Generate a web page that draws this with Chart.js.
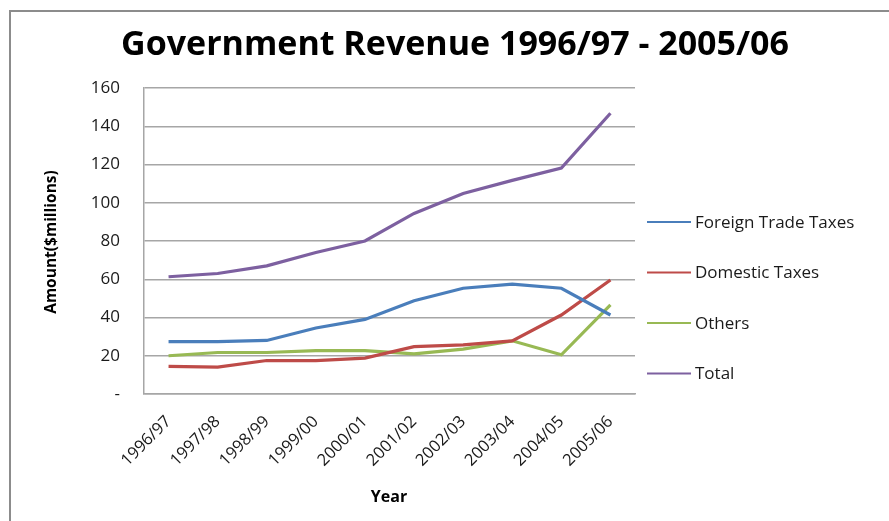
<!DOCTYPE html>
<html>
<head>
<meta charset="utf-8">
<script src="https://cdn.jsdelivr.net/npm/chart.js@4.4.1/dist/chart.umd.min.js"></script>
<style>
  html, body { margin: 0; padding: 0; background: #fff; }
  #wrap { width: 889px; height: 521px; position: relative; }
</style>
</head>
<body>
<div id="wrap"><canvas id="lineChart" width="889" height="521"></canvas></div>
<script>
var years = ['1996/97', '1997/98', '1998/99', '1999/00', '2000/01', '2001/02', '2002/03', '2003/04', '2004/05', '2005/06'];
var foreignTrade = [27.4, 27.4, 28, 34.5, 39, 48.8, 55.3, 57.5, 55.3, 41.3];
var domestic = [14.4, 14.1, 17.5, 17.5, 18.8, 24.8, 25.7, 27.8, 41.3, 59.6];
var others = [20, 21.7, 21.7, 22.7, 22.7, 21, 23.5, 27.8, 20.5, 46.6];
var total = [61.3, 63, 67, 74, 80, 94.4, 104.8, 111.7, 118.1, 146.8];
var yTicks = [0, 20, 40, 60, 80, 100, 120, 140, 160];

var fontFam = '"Open Sans", Lato, sans-serif';

// title, axis titles and legend drawn by hand, excel style
var decorPlugin = {
    id: 'decor',
    afterDraw: function (chart) {
        var ctx = chart.ctx;
        ctx.save();

        // outer frame
        ctx.strokeStyle = '#8c8c8c';
        ctx.lineWidth = 2;
        ctx.beginPath();
        ctx.moveTo(10, 530);
        ctx.lineTo(10, 11);
        ctx.lineTo(900, 11);
        ctx.stroke();

        ctx.fillStyle = '#000';
        ctx.textAlign = 'center';
        ctx.textBaseline = 'middle';
        ctx.font = 'bold 34px ' + fontFam;
        ctx.fillText('Government Revenue 1996/97 - 2005/06', 455, 45);

        ctx.font = 'bold 16px ' + fontFam;
        ctx.fillText('Year', 389, 497);

        ctx.save();
        ctx.translate(52, 242);
        ctx.rotate(-Math.PI / 2);
        ctx.font = 'bold 15.5px ' + fontFam;
        ctx.fillText('Amount($millions)', 0, 0);
        ctx.restore();

        // legend
        ctx.textAlign = 'left';
        ctx.font = '17px ' + fontFam;
        chart.data.datasets.forEach(function (ds, i) {
            var y = 222 + i * 50.5;
            ctx.strokeStyle = ds.borderColor;
            ctx.lineWidth = 2;
            ctx.beginPath();
            ctx.moveTo(647, y);
            ctx.lineTo(691, y);
            ctx.stroke();
            ctx.fillStyle = '#1a1a1a';
            ctx.fillText(ds.label, 695, y + 1);
        });
        ctx.restore();
    }
};

var ctx = document.getElementById('lineChart').getContext('2d');

var myLineChart = new Chart(ctx, {
    type: 'line',
    data: {
        labels: years,
        datasets: [
            { label: 'Foreign Trade Taxes', data: foreignTrade, borderColor: '#4A7EBB' },
            { label: 'Domestic Taxes', data: domestic, borderColor: '#BE4B48' },
            { label: 'Others', data: others, borderColor: '#98B954' },
            { label: 'Total', data: total, borderColor: '#7D60A0' }
        ]
    },
    options: {
        responsive: false,
        animation: false,
        layout: { padding: { top: 88, right: 254, left: 0, bottom: 0 } },
        elements: {
            line: { borderWidth: 3.2, tension: 0 },
            point: { radius: 0 }
        },
        plugins: {
            legend: { display: false },
            title: { display: false },
            tooltip: { enabled: false }
        },
        scales: {
            x: {
                offset: true,
                grid: { display: false, drawTicks: false },
                border: { color: '#a6a6a6', width: 1.5 },
                ticks: {
                    color: '#1a1a1a',
                    font: { family: fontFam, size: 16.5 },
                    minRotation: 45,
                    maxRotation: 45,
                    padding: 18
                },
                afterFit: function (scale) { scale.height = 127; }
            },
            y: {
                min: 0,
                max: 160,
                afterBuildTicks: function (scale) {
                    scale.ticks = yTicks.map(function (v) { return { value: v }; });
                },
                grid: { color: '#a6a6a6', lineWidth: 1.5, drawTicks: false },
                border: { color: '#a6a6a6', width: 1.5 },
                ticks: {
                    color: '#1a1a1a',
                    font: { family: fontFam, size: 17 },
                    padding: 24,
                    callback: function (v) { return v === 0 ? '-' : v; }
                },
                afterFit: function (scale) { scale.width = 144; }
            }
        }
    },
    plugins: [decorPlugin]
});
</script>
</body>
</html>
